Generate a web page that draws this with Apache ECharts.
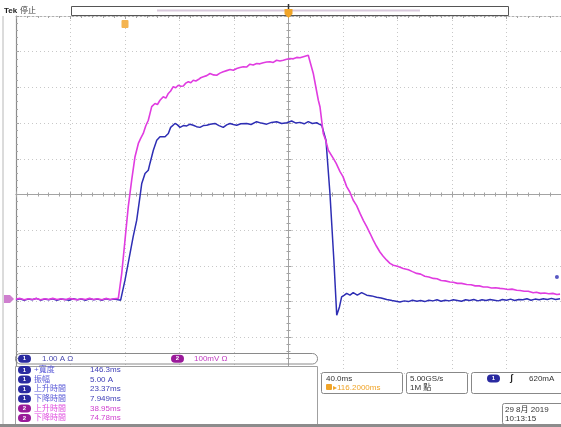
<!DOCTYPE html>
<html><head><meta charset="utf-8">
<script src="https://cdn.jsdelivr.net/npm/echarts/dist/echarts.min.js"></script>
<style>html,body{margin:0;padding:0;background:#fff}#c{width:561px;height:427px}</style>
</head><body><div id="c"></div>
<script>
// Scope settings: 40 ms/div (10 div), CH1 1.00 A/div, CH2 100 mV/div, ground 2.93 div below centre
const timeRange = [0, 400];
const ch1Range = [-2.07, 7.93];
const ch2Range = [-207, 793];
const divRange = [-5, 5];
const triggerTime = 200;
const triggerLevel = 0.62;   // A
const expansionTime = 80;

// CH1 current (A) vs time (ms)
const ch1Trace = [[0,-0.02],[3,0.01],[6,-0.03],[9,0.00],[12,-0.02],[15,0.02],[18,-0.03],[21,0.00],[24,-0.02],[27,0.01],[30,-0.03],[33,0.00],[36,-0.01],[39,-0.03],[42,0.01],[45,-0.02],[48,0.00],[51,-0.03],[54,0.01],[57,-0.02],[60,0.00],[63,-0.03],[66,0.01],[69,-0.02],[72,0.00],[75,-0.02],[76.8,-0.03],
[80,0.53],[83.7,1.28],[86,1.75],[88.6,2.21],[91,2.87],[92.3,3.24],[94.7,3.52],[97.1,3.61],[98.3,3.80],[100.8,4.17],[103.3,4.45],[105.7,4.55],[109.4,4.55],[111.8,4.64],[113.5,4.81],[116.7,4.92],[118.5,4.88],[120.4,4.81],[122.8,4.86],[125.3,4.85],[127.7,4.90],[130.1,4.87],[132.5,4.83],[135,4.81],[137.5,4.86],[140,4.87],[142.5,4.90],[146,4.92],[149,4.86],[152.1,4.81],[154.6,4.88],[157.1,4.92],[159.5,4.89],[162,4.87],[165,4.91],[169.3,4.92],[172.5,4.89],[176.6,4.97],[180,4.93],[184,4.90],[187.5,4.95],[191.3,4.97],[195,4.92],[198.7,4.94],[202.3,4.99],[205.5,4.93],[208.4,4.95],[211.5,4.91],[214.5,4.97],[217.5,4.92],[220.7,4.94],[222.5,4.90],[224.4,4.87],
[227.5,4.45],[230.4,2.97],[233.3,1.09],[235.4,-0.45],[237.4,-0.22],[239,0.06],[241,0.11],[242.7,0.16],[245.1,0.11],[247.5,0.18],[250.5,0.11],[253.7,0.18],[257.4,0.11],[261,0.09],[264.7,0.05],[268,0.03],[272.1,-0.01],[276,-0.04],[281.8,-0.08],[285,-0.05],[288,-0.07],[291,-0.03],[294.3,-0.06],[297,-0.04],[300,-0.07],[303,-0.03],[306,-0.05],[309,-0.02],[312,-0.06],[315,-0.03],[318,-0.05],[321,-0.02],[324,-0.04],[327,-0.06],[330,-0.02],[333,-0.04],[336,-0.01],[339,-0.05],[342,-0.02],[345,-0.04],[348,-0.01],[351,-0.03],[354,-0.05],[357,-0.01],[360,-0.03],[363,0.00],[366,-0.04],[369,-0.01],[372,-0.02],[375,0.01],[378,-0.03],[381,0.00],[384,-0.02],[387,0.01],[390,-0.01],[393,0.02],[396,-0.01],[399.3,0.01]];

// CH2 voltage (mV) vs time (ms)
const ch2Trace = [[0,0],[3,2],[6,-2],[9,1],[12,-1],[15,2],[18,-2],[21,1],[24,-1],[27,2],[30,-1],[33,1],[36,-2],[39,2],[42,0],[45,-2],[48,1],[51,-1],[54,2],[57,-1],[60,1],[63,-2],[66,2],[69,-1],[72,1],[75.1,2],
[77.6,72],[80,165],[82.4,259],[84.9,333],[87.3,398],[89.8,436],[91.5,450],[93.4,464],[95.2,485],[97.1,501],[99.6,539],[102,548],[103.8,545],[105.7,557],[108.1,567],[110,563],[111.8,576],[113.5,583],[115.4,595],[117.2,592],[119.1,599],[121,596],[122.8,597],[124.6,605],[126.5,609],[128.3,606],[130.1,613],[132,611],[133.8,615],[135.6,620],[137.5,623],[140,626],[142.4,632],[145,628],[147.3,627],[149.7,633],[152.1,637],[154.6,640],[157.1,643],[159.5,641],[162,646],[164.4,649],[166.8,651],[169.2,650],[171.7,658],[174.1,656],[176.6,660],[179,659],[181.5,662],[184,664],[186.4,665],[188.8,663],[191.3,669],[193.7,667],[196.2,669],[198.6,672],[201.1,674],[203.5,673],[206,677],[208.4,676],[210.9,679],[212.7,681],[214.5,683],
[218.2,632],[221.9,557],[223.1,539],[225.5,464],[227.3,445],[229.2,417],[232.9,394],[235,380],[237.8,357],[240,343],[242.7,315],[245,300],[247.5,277],[250,262],[252.5,240],[255,220],[257.4,203],[260,183],[262.2,165],[264.6,148],[267.1,132],[269.5,120],[272.1,109],[274.5,100],[276.9,95],[280,92],[284.2,86],[288,82],[291,77],[294.1,72],[297,70],[300,64],[303,62],[306.3,58],[309,57],[312,52],[315,51],[318.5,48],[321,47],[324,44],[327,44],[330.8,41],[334,40],[337,37],[340,37],[343,34],[346,34],[349,31],[352,32],[355.2,30],[358,29],[361,27],[364,28],[367.5,25],[370,24],[373,22],[376,22],[379.6,18],[382,19],[385,16],[388,17],[391,15],[394,16],[397,13],[399.3,14]];

// Readouts
const ch1Scale = '1.00 A Ω';
const ch2Scale = '100mV Ω';
const measLabels = ['+寬度','振幅','上升時間','下降時間','上升時間','下降時間'];
const measValues = ['146.3ms','5.00 A','23.37ms','7.949ms','38.95ms','74.78ms'];
const measChannels = [1,1,1,1,2,2];
const horizScale = '40.0ms';
const horizDelay = '116.2000ms';
const sampleRate = '5.00GS/s';
const recordLen = '1M 點';
const trigText = '620mA';
const dateText = '29 8月 2019';
const timeText = '10:13:15';

const BLUE = '#2e2eb4', MAG = '#e03ce0', GRID = '#a3a3a3';
const FONT = 'Liberation Sans, "Noto Sans CJK TC", sans-serif';

const chart = echarts.init(document.getElementById('c'), null, {renderer:'canvas'});
const hidden = {axisLabel:{show:false}, axisTick:{show:false}, axisLine:{show:false}, splitLine:{show:false}};
function divAxis(extra){
  return Object.assign({type:'value', min:divRange[0], max:divRange[1], interval:1,
    axisLabel:{show:false}, splitLine:{show:false}}, extra);
}
const option = {
  animation:false,
  backgroundColor:'#fff',
  grid:{left:16, right:0, top:16, bottom:54},
  xAxis:[
    {type:'value', min:timeRange[0], max:timeRange[1], interval:40, axisLabel:{show:false}, axisTick:{show:false}, axisLine:{show:false},
     splitLine:{show:true, lineStyle:{color:'#c8c8c8', type:[1,3], width:1}}},
    divAxis({axisLine:{onZero:true, onZeroAxisIndex:2, lineStyle:{color:GRID, width:1}},
      axisTick:{show:true, inside:true, length:3, lineStyle:{color:GRID}},
      minorTick:{show:true, splitNumber:5, length:2, lineStyle:{color:GRID}}}),
    divAxis({axisLine:{onZero:true, onZeroAxisIndex:2, lineStyle:{color:GRID, width:1}},
      axisTick:{show:true, inside:false, length:3, lineStyle:{color:GRID}},
      minorTick:{show:true, splitNumber:5, length:2, lineStyle:{color:GRID}}}),
    divAxis({position:'top', axisLine:{onZero:false, lineStyle:{color:'#b0b0b0', width:1, type:[2,2]}},
      axisTick:{show:true, inside:true, length:3, lineStyle:{color:GRID}},
      minorTick:{show:true, splitNumber:5, length:2, lineStyle:{color:GRID}}})
  ],
  yAxis:[
    Object.assign({type:'value', min:ch1Range[0], max:ch1Range[1], position:'left'}, hidden),
    Object.assign({type:'value', min:ch2Range[0], max:ch2Range[1], position:'right'}, hidden),
    divAxis({position:'left', axisLine:{onZero:true, onZeroAxisIndex:1, lineStyle:{color:GRID, width:1}},
      axisTick:{show:true, inside:true, length:3, lineStyle:{color:GRID}},
      minorTick:{show:true, splitNumber:5, length:2, lineStyle:{color:GRID}},
      splitLine:{show:true, lineStyle:{color:'#c8c8c8', type:[1,3], width:1}}}),
    divAxis({position:'left', axisLine:{onZero:true, onZeroAxisIndex:1, lineStyle:{color:GRID, width:1}},
      axisTick:{show:true, inside:false, length:3, lineStyle:{color:GRID}},
      minorTick:{show:true, splitNumber:5, length:2, lineStyle:{color:GRID}}}),
    divAxis({position:'left', axisLine:{onZero:false, lineStyle:{color:'#8c8c8c', width:1.2}},
      axisTick:{show:true, inside:true, length:3, lineStyle:{color:GRID}},
      minorTick:{show:true, splitNumber:5, length:2, lineStyle:{color:GRID}}})
  ],
  series:[
    {type:'line', name:'CH1', xAxisIndex:0, yAxisIndex:0, data:ch1Trace, showSymbol:false, symbol:'none',
     lineStyle:{color:BLUE, width:1.5}, itemStyle:{color:BLUE}, z:3},
    {type:'line', name:'CH2', xAxisIndex:0, yAxisIndex:1, data:ch2Trace, showSymbol:false, symbol:'none',
     lineStyle:{color:MAG, width:1.6}, itemStyle:{color:MAG}, z:4},
    {type:'scatter', name:'trig', xAxisIndex:0, yAxisIndex:0, data:[[397, triggerLevel]], symbolSize:4,
     itemStyle:{color:BLUE}, z:5}
  ]
};
chart.setOption(option);

const tx = chart.convertToPixel({xAxisIndex:0}, triggerTime);
const ex = chart.convertToPixel({xAxisIndex:0}, expansionTime);
const gy = chart.convertToPixel({yAxisIndex:0}, 0);

function txt(x, y, s, color, size, weight){
  return {type:'text', x:x, y:y, z:100, style:{text:s, fill:color, font:(weight||'normal')+' '+(size||8)+'px '+FONT, textVerticalAlign:'middle'}};
}
function badge(x, y, n, color){
  return [{type:'rect', z:100, shape:{x:x, y:y-4, width:13, height:8, r:4}, style:{fill:color}},
          {type:'text', z:101, x:x+6.5, y:y, style:{text:String(n), fill:'#fff', font:'bold 6px '+FONT, textAlign:'center', textVerticalAlign:'middle'}}];
}
const g = [];
// outer frame line
g.push({type:'line', z:90, shape:{x1:3, y1:16, x2:3, y2:424}, style:{stroke:'#b8b8b8', lineWidth:1}});
// top bar
g.push(txt(4, 11, 'Tek', '#222', 8, 'bold'));
g.push(txt(20, 11, '停止', '#444', 8));
g.push({type:'rect', z:100, shape:{x:71.5, y:6.5, width:437, height:9}, style:{fill:'#fff', stroke:'#555', lineWidth:1}});
g.push({type:'line', z:101, shape:{x1:157, y1:10.5, x2:420, y2:10.5}, style:{stroke:'#d9c9dc', lineWidth:2}});
g.push({type:'line', z:102, shape:{x1:tx, y1:4, x2:tx, y2:16}, style:{stroke:'#333', lineWidth:1.5}});
g.push({type:'polygon', z:103, shape:{points:[[tx-4,9],[tx+4,9],[tx+4,14],[tx,18],[tx-4,14]]}, style:{fill:'#f0a428'}});
g.push({type:'rect', z:100, shape:{x:ex-3.5, y:20, width:7, height:8, r:1}, style:{fill:'#f4b450'}});
// ground marker
g.push({type:'polygon', z:100, shape:{points:[[4,gy-4],[10,gy-4],[14,gy],[10,gy+4],[4,gy+4]]}, style:{fill:'#cf7fcf'}});
// channel box
g.push({type:'rect', z:100, shape:{x:15.5, y:353.5, width:302, height:10.5, r:5}, style:{fill:null, stroke:'#8a8a8a', lineWidth:1}});
g.push(...badge(18, 358.7, 1, '#2a2aa0'));
g.push(txt(42, 359, ch1Scale, '#4a4ab0', 8));
g.push(...badge(171, 358.7, 2, '#9a1a9a'));
g.push(txt(194, 359, ch2Scale, '#c03cc0', 8));
// measurement panel
g.push({type:'rect', z:99, shape:{x:15.5, y:366.5, width:302, height:60}, style:{fill:'#fff', stroke:'#a0a0a0', lineWidth:1}});
measLabels.forEach((lab, i) => {
  const y = 370 + i * 9.6;
  const c1 = measChannels[i] === 1;
  g.push(...badge(18, y, measChannels[i], c1 ? '#2a2aa0' : '#9a1a9a'));
  g.push(txt(34, y, lab, c1 ? '#5a5ad8' : '#e050e0', 8));
  g.push(txt(90, y, measValues[i], c1 ? '#4040b8' : '#d040d0', 8));
});
// horizontal box
g.push({type:'rect', z:100, shape:{x:321.5, y:372.5, width:81, height:21, r:2}, style:{fill:'#fff', stroke:'#888', lineWidth:1}});
g.push(txt(326, 378.5, horizScale, '#333', 8));
g.push({type:'rect', z:101, shape:{x:326, y:384, width:6, height:6, r:1}, style:{fill:'#f0a428'}});
g.push(txt(333, 387.5, '▸' + horizDelay, '#f0a428', 8));
// acquisition box
g.push({type:'rect', z:100, shape:{x:406.5, y:372.5, width:61, height:21, r:2}, style:{fill:'#fff', stroke:'#888', lineWidth:1}});
g.push(txt(410, 378.5, sampleRate, '#333', 8));
g.push(txt(410, 387.5, recordLen, '#333', 8));
// trigger box
g.push({type:'rect', z:100, shape:{x:471.5, y:372.5, width:92, height:21, r:2}, style:{fill:'#fff', stroke:'#888', lineWidth:1}});
g.push(...badge(487, 378.5, 1, '#2a2aa0'));
g.push(txt(510, 378.5, 'ʃ', '#222', 9, 'bold'));
g.push(txt(529, 378.5, trigText, '#333', 8));
// date box
g.push({type:'rect', z:100, shape:{x:502.5, y:403.5, width:62, height:21, r:2}, style:{fill:'#fff', stroke:'#888', lineWidth:1}});
g.push(txt(505, 409.5, dateText, '#333', 8));
g.push(txt(505, 418.5, timeText, '#333', 8));
// bottom strip
g.push({type:'rect', z:105, shape:{x:0, y:424, width:561, height:3}, style:{fill:'#8c8c8c'}});
chart.setOption({graphic:g});
</script></body></html>
